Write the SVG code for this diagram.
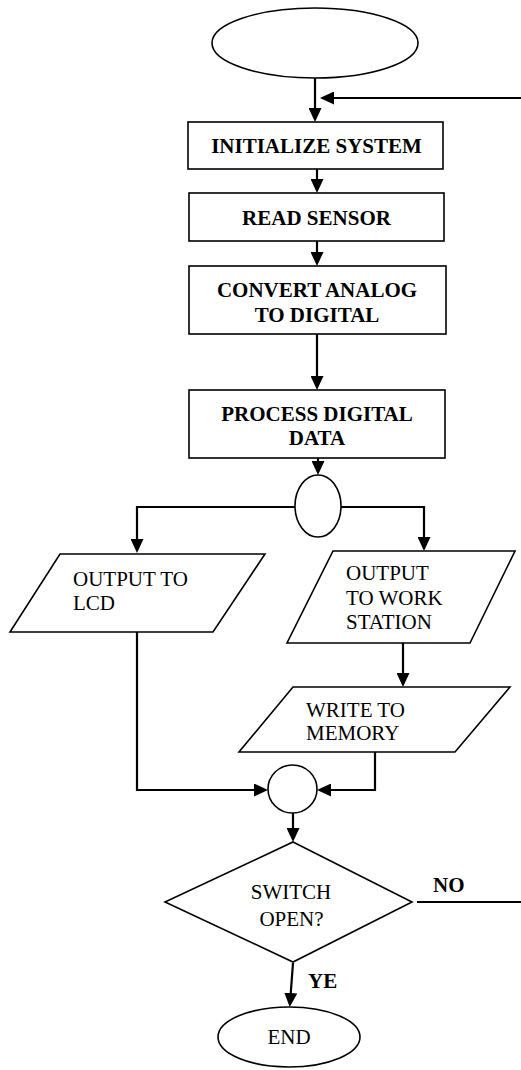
<svg xmlns="http://www.w3.org/2000/svg" width="521" height="1070" viewBox="0 0 521 1070">
<style>
.shape{fill:#fff;stroke:#000;stroke-width:1.6}
.conn{fill:none;stroke:#000;stroke-width:2.2}
.arr{marker-end:url(#ah)}
text{font-family:"Liberation Serif","Times New Roman",serif;font-size:21px;fill:#000}
.b{font-weight:bold}
.c{text-anchor:middle}
</style>
<defs>
<marker id="ah" markerUnits="userSpaceOnUse" markerWidth="14" markerHeight="13" viewBox="0 0 14 13" refX="10" refY="6.5" orient="auto">
<path d="M0,0 L14,6.5 L0,13 Z" fill="#000"/>
</marker>
</defs>
<g id="connectors">
<line class="conn arr" x1="315" y1="78" x2="315" y2="118"/>
<line class="conn arr" x1="521" y1="98" x2="324" y2="98"/>
<line class="conn arr" x1="317" y1="169" x2="317" y2="189"/>
<line class="conn arr" x1="317" y1="241" x2="317" y2="262"/>
<line class="conn arr" x1="317" y1="334" x2="317" y2="386"/>
<line class="conn arr" x1="318" y1="458" x2="318" y2="471"/>
<polyline class="conn arr" points="295,507 137,507 137,549"/>
<polyline class="conn arr" points="341,507 424,507 424,547"/>
<line class="conn arr" x1="403" y1="643" x2="403" y2="683"/>
<polyline class="conn arr" points="137,632 137,790 264,790"/>
<polyline class="conn arr" points="375,752 375,790 321,790"/>
<line class="conn arr" x1="293" y1="813" x2="293" y2="838"/>
<line class="conn" x1="417" y1="902" x2="521" y2="902"/>
<line class="conn arr" x1="293" y1="963" x2="290" y2="1003"/>
</g>
<g id="start">
<ellipse class="shape" cx="315" cy="43" rx="103" ry="35"/>
</g>
<g id="init">
<rect class="shape" x="188" y="122" width="255" height="47"/>
<text class="b c" x="316.5" y="153">INITIALIZE SYSTEM</text>
</g>
<g id="read">
<rect class="shape" x="189" y="193" width="255" height="48"/>
<text class="b c" x="316.5" y="225">READ SENSOR</text>
</g>
<g id="convert">
<rect class="shape" x="189" y="266" width="257" height="68"/>
<text class="b c" x="317" y="297">CONVERT ANALOG</text>
<text class="b c" x="317" y="322">TO DIGITAL</text>
</g>
<g id="process">
<rect class="shape" x="189" y="390" width="256" height="68"/>
<text class="b c" x="317" y="421">PROCESS DIGITAL</text>
<text class="b c" x="317" y="445">DATA</text>
</g>
<g id="split">
<ellipse class="shape" cx="318" cy="506" rx="23" ry="31"/>
</g>
<g id="lcd">
<polygon class="shape" points="60,554 265,554 213,632 10,632"/>
<text x="73" y="586">OUTPUT TO</text>
<text x="73" y="610">LCD</text>
</g>
<g id="workstation">
<polygon class="shape" points="333,551 515,551 470,643 287,643"/>
<text x="346" y="580">OUTPUT</text>
<text x="346" y="605">TO WORK</text>
<text x="346" y="629">STATION</text>
</g>
<g id="memory">
<polygon class="shape" points="293,687 510,687 455,752 239,752"/>
<text x="306" y="717">WRITE TO</text>
<text x="306" y="740">MEMORY</text>
</g>
<g id="merge">
<ellipse class="shape" cx="292.5" cy="789" rx="24.5" ry="24"/>
</g>
<g id="decision">
<polygon class="shape" points="293,842 412,902 293,962 165,902"/>
<text class="c" x="291" y="899">SWITCH</text>
<text class="c" x="291.5" y="926">OPEN?</text>
<text class="b" x="433" y="892">NO</text>
<text class="b" x="308" y="988">YE</text>
</g>
<g id="end">
<ellipse class="shape" cx="289" cy="1037" rx="71" ry="30"/>
<text class="c" x="289" y="1044">END</text>
</g>
</svg>
